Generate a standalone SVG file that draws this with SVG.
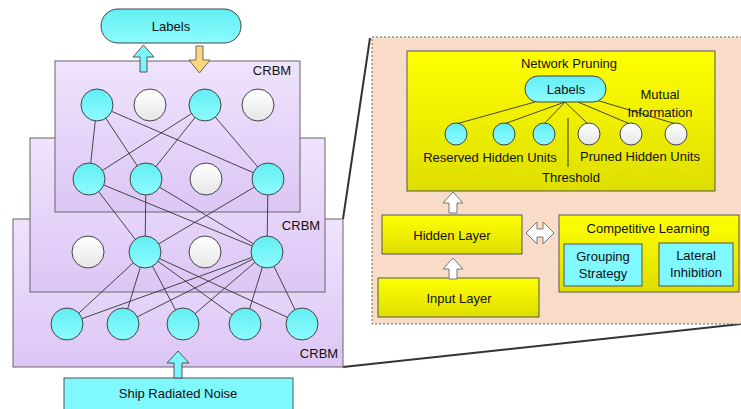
<svg xmlns="http://www.w3.org/2000/svg" width="741" height="409" viewBox="0 0 741 409">
<defs>
<linearGradient id="gPurple" x1="0" y1="0" x2="0" y2="1"><stop offset="0" stop-color="#efe3fd"/><stop offset="1" stop-color="#dcc6f5"/></linearGradient>
<linearGradient id="gCyan" x1="0" y1="0" x2="0" y2="1"><stop offset="0" stop-color="#62eef2"/><stop offset="1" stop-color="#8efcff"/></linearGradient>
<linearGradient id="gWhite" x1="0" y1="0" x2="0" y2="1"><stop offset="0" stop-color="#ffffff"/><stop offset="1" stop-color="#e6e6e6"/></linearGradient>
<linearGradient id="gYellow" x1="0" y1="0" x2="0" y2="1"><stop offset="0" stop-color="#ffff00"/><stop offset="1" stop-color="#dede00"/></linearGradient>
</defs>
<style>
.box{fill:url(#gPurple);stroke:#666;stroke-width:1}
.cy{fill:url(#gCyan);stroke:#444;stroke-width:1}
.wh{fill:url(#gWhite);stroke:#444;stroke-width:1}
.yl{fill:url(#gYellow);stroke:#555;stroke-width:1}
.cb{fill:#80f8ff;stroke:#555;stroke-width:1}
.ln{stroke:#333;stroke-width:0.9;fill:none}
.t{font-family:"Liberation Sans",Arial,sans-serif;font-size:13px;fill:#111;text-anchor:middle}
.hollow{fill:#fff;stroke:#777;stroke-width:1}
</style>

<!-- zoom lines -->
<g id="zoomlines">
<line x1="370" y1="38" x2="343" y2="219" stroke="#333" stroke-width="2"/>
<line x1="343" y1="367" x2="741" y2="324" stroke="#333" stroke-width="2"/>
</g>

<!-- Left stack -->
<g id="crbm3"><rect class="box" x="13" y="219" width="330" height="148"/><text class="t" x="319" y="358">CRBM</text></g>
<g id="crbm2"><rect class="box" x="30" y="138" width="295" height="154"/><text class="t" x="301" y="230">CRBM</text></g>
<g id="crbm1"><rect class="box" x="55" y="61" width="245" height="151"/><text class="t" x="272" y="75">CRBM</text></g>

<!-- Right panel -->
<g id="panel">
<rect x="372" y="37" width="375" height="287" fill="#f9dcc8" stroke="#666" stroke-width="1" stroke-dasharray="2,2"/>
</g>
<g id="pruning-box">
<rect class="yl" x="407" y="51" width="308" height="140"/>
<text class="t" x="569" y="68">Network Pruning</text>
</g>

<g id="connectors">
<path class="ln" d="M97,105 L89,179 M97,105 L146,179 M97,105 L268,179 M205,105 L89,179 M205,105 L146,179 M205,105 L268,179"/>
<path class="ln" d="M89,179 L145,252 M89,179 L267,252 M146,179 L145,252 M146,179 L267,252 M268,179 L145,252 M268,179 L267,252"/>
<path class="ln" d="M145,252 L67,324 M145,252 L123,324 M145,252 L183,324 M145,252 L245,324 M145,252 L302,324 M267,252 L67,324 M267,252 L123,324 M267,252 L183,324 M267,252 L245,324 M267,252 L302,324"/>
<path class="ln" d="M535,102 L456,124 M565,102 L504,124 M565,102 L544,124 M565,102 L588,124 M578,102 L630,124 M596,100 L676,124"/>
</g>

<g id="row1">
<circle class="cy" cx="97" cy="105" r="16"/><circle class="wh" cx="150" cy="105" r="16"/><circle class="cy" cx="205" cy="105" r="16"/><circle class="wh" cx="258" cy="105" r="16"/>
</g>
<g id="row2">
<circle class="cy" cx="89" cy="179" r="16"/><circle class="cy" cx="146" cy="179" r="16"/><circle class="wh" cx="206" cy="179" r="16"/><circle class="cy" cx="268" cy="179" r="16"/>
</g>
<g id="row3">
<circle class="wh" cx="88" cy="252" r="16"/><circle class="cy" cx="145" cy="252" r="16"/><circle class="wh" cx="205" cy="252" r="16"/><circle class="cy" cx="267" cy="252" r="16"/>
</g>
<g id="row4">
<circle class="cy" cx="67" cy="324" r="16"/><circle class="cy" cx="123" cy="324" r="16"/><circle class="cy" cx="183" cy="324" r="16"/><circle class="cy" cx="245" cy="324" r="16"/><circle class="cy" cx="302" cy="324" r="16"/>
</g>

<g id="labels-top">
<rect class="cy" x="101" y="9" width="140" height="34" rx="17"/>
<text class="t" x="171" y="31">Labels</text>
</g>
<g id="arrows-top">
<path d="M133,57 L143.5,45 L154,57 L147,57 L147,72 L140,72 L140,57 Z" fill="#7ff6fb" stroke="#555" stroke-width="1"/>
<path d="M196,46 L203,46 L203,60 L210,60 L199.5,73 L189,60 L196,60 Z" fill="#ffd77a" stroke="#666" stroke-width="1"/>
</g>

<g id="noise">
<rect class="cb" x="64" y="378" width="229" height="32"/>
<text class="t" x="178" y="398">Ship Radiated Noise</text>
<path d="M167,363 L178,351 L189,363 L182,363 L182,378 L174,378 L174,363 Z" fill="#7ff6fb" stroke="#555" stroke-width="1"/>
</g>

<g id="pruning-content">
<rect class="cy" x="525" y="76" width="81" height="26" rx="13"/>
<text class="t" x="566" y="94">Labels</text>
<text class="t" x="660" y="99">Mutual</text>
<text class="t" x="660" y="117">Information</text>
<circle class="cy" cx="456" cy="134" r="11"/><circle class="cy" cx="504" cy="134" r="11"/><circle class="cy" cx="544" cy="134" r="11"/>
<circle class="wh" cx="589" cy="134" r="11"/><circle class="wh" cx="631" cy="134" r="11"/><circle class="wh" cx="676" cy="134" r="11"/>
<line x1="568" y1="118" x2="568" y2="167" stroke="#333" stroke-width="1"/>
<text class="t" x="490" y="162">Reserved Hidden Units</text>
<text class="t" x="640" y="161">Pruned Hidden Units</text>
<text class="t" x="571" y="182">Threshold</text>
</g>

<g id="hidden">
<rect class="yl" x="382" y="215" width="140" height="39"/>
<text class="t" x="452" y="240">Hidden Layer</text>
</g>
<g id="input">
<rect class="yl" x="378" y="278" width="161" height="39"/>
<text class="t" x="459" y="303">Input Layer</text>
</g>
<g id="competitive">
<rect class="yl" x="559" y="215" width="180" height="77"/>
<text class="t" x="648" y="233">Competitive Learning</text>
<rect class="cb" x="564" y="244" width="78" height="42"/>
<text class="t" x="603" y="261">Grouping</text>
<text class="t" x="603" y="278">Strategy</text>
<rect class="cb" x="659" y="243" width="74" height="43"/>
<text class="t" x="696" y="260">Lateral</text>
<text class="t" x="696" y="277">Inhibition</text>
</g>

<g id="hollow-arrows">
<path class="hollow" d="M443,203 L453,192 L463,203 L457,203 L457,213 L449,213 L449,203 Z"/>
<path class="hollow" d="M443,269 L453,258 L463,269 L457,269 L457,279 L449,279 L449,269 Z"/>
<path class="hollow" d="M526,233 L537,222 L537,229 L543,229 L543,222 L554,233 L543,244 L543,237 L537,237 L537,244 Z"/>
</g>
</svg>
